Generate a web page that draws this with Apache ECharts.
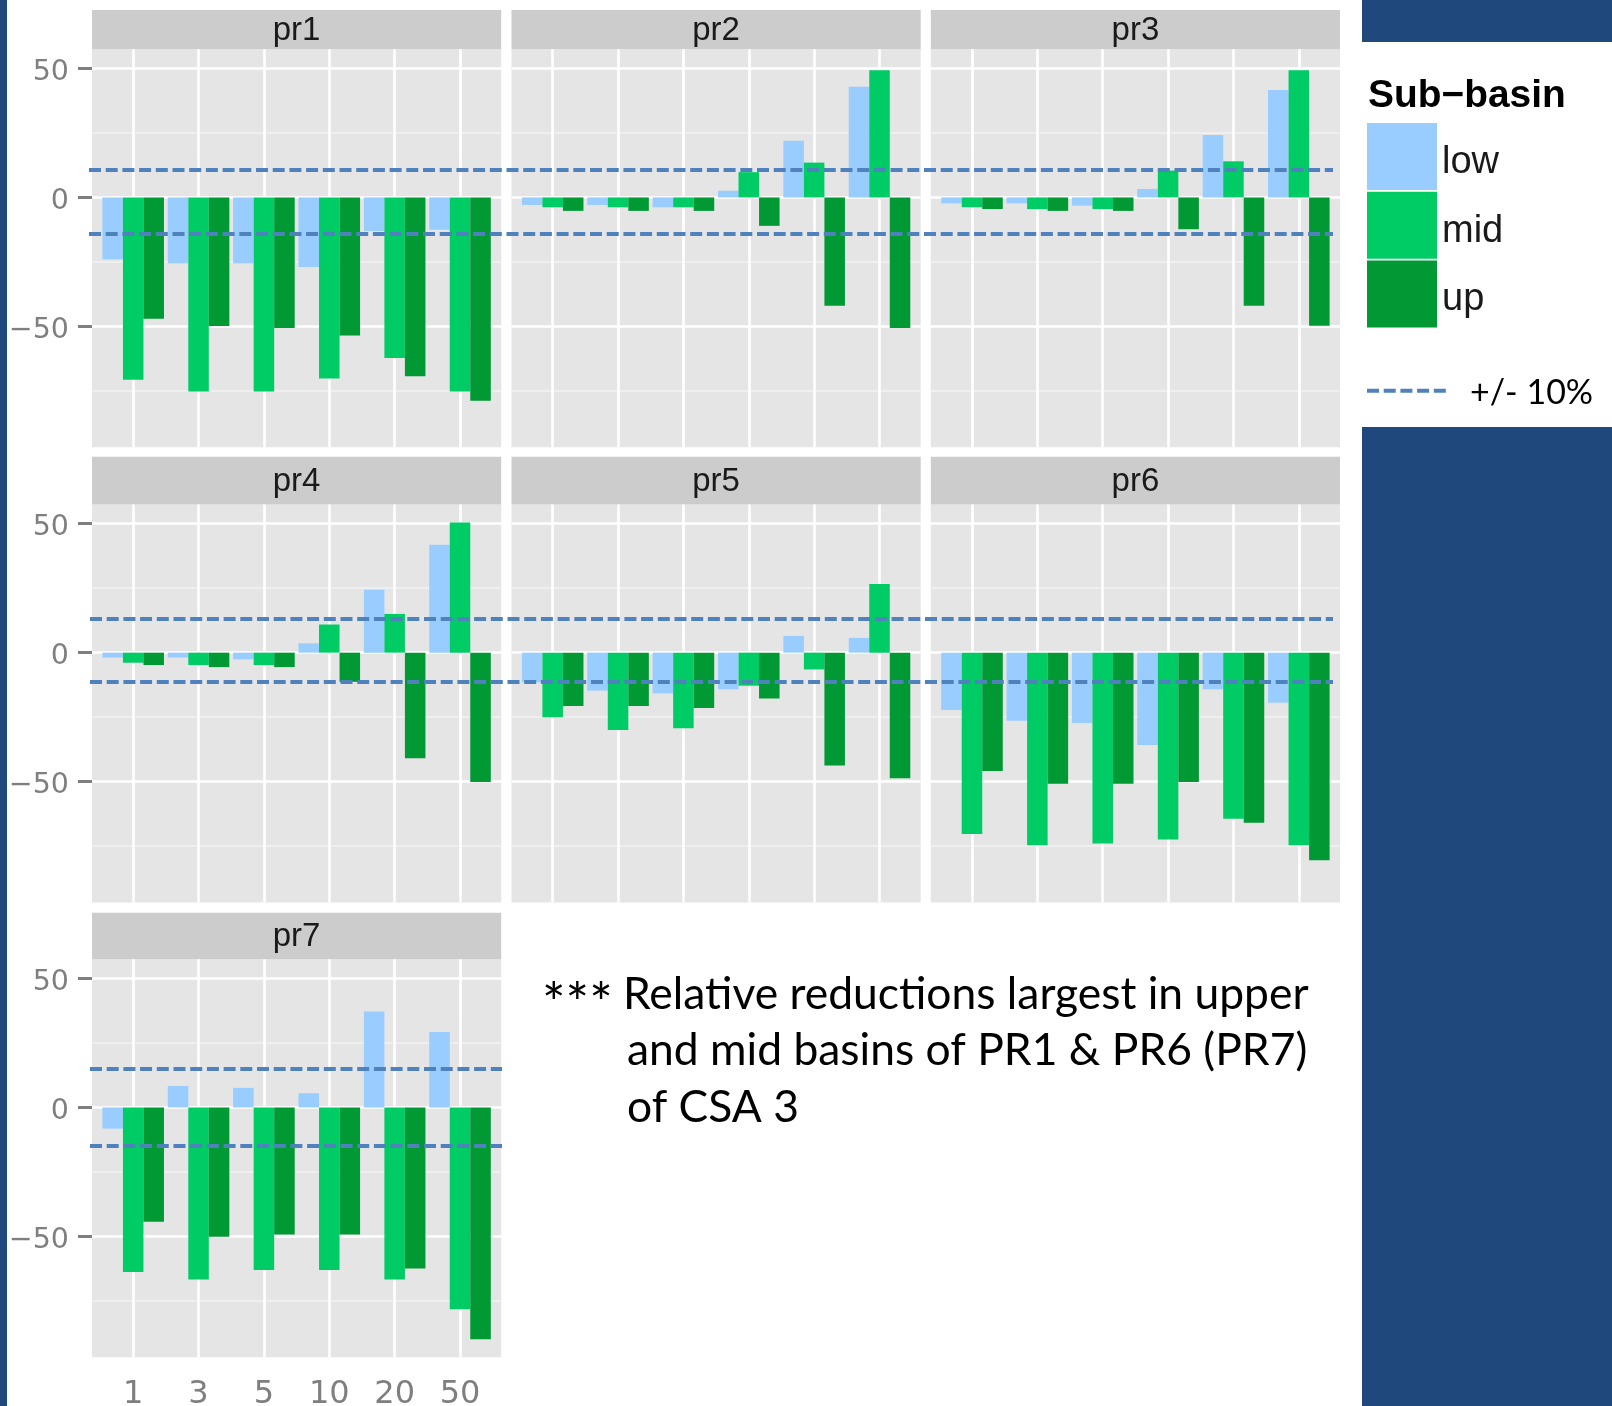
<!DOCTYPE html>
<html><head><meta charset="utf-8">
<script src="https://cdn.jsdelivr.net/npm/echarts@6/dist/echarts.min.js"></script>
<style>html,body{margin:0;padding:0;background:#fff}#c{width:1612px;height:1406px}</style>
</head><body><div id="c"></div>
<script>
// ---------------- data ----------------
const categories = ['1', '3', '5', '10', '20', '50'];
const panelNames = ['pr1', 'pr2', 'pr3', 'pr4', 'pr5', 'pr6', 'pr7'];
const legendNames = ['low', 'mid', 'up'];

const pr1Low = [-23.9, -25.5, -25.5, -26.9, -13.0, -12.5];
const pr1Mid = [-70.6, -75.2, -75.2, -70.1, -62.2, -75.2];
const pr1Up  = [-47.0, -49.8, -50.6, -53.5, -69.3, -78.8];
const pr2Low = [-2.9, -2.9, -3.8, 2.6, 22.0, 42.9];
const pr2Mid = [-3.8, -3.8, -3.8, 9.8, 13.5, 49.3];
const pr2Up  = [-5.2, -5.2, -5.2, -11.0, -42.0, -50.6];
const pr3Low = [-2.3, -2.3, -3.2, 3.3, 24.2, 41.6];
const pr3Mid = [-3.8, -4.5, -4.5, 10.4, 14.0, 49.3];
const pr3Up  = [-4.5, -5.2, -5.2, -12.3, -42.0, -49.7];
const pr4Low = [-1.9, -1.9, -2.6, 3.6, 24.4, 41.8];
const pr4Mid = [-3.9, -4.8, -4.8, 10.9, 15.0, 50.4];
const pr4Up  = [-4.8, -5.6, -5.6, -11.3, -40.9, -50.1];
const pr5Low = [-11.5, -14.7, -15.8, -14.2, 6.5, 5.7];
const pr5Mid = [-25.0, -30.0, -29.3, -12.8, -6.5, 26.6];
const pr5Up  = [-20.7, -20.7, -21.4, -17.8, -43.7, -48.7];
const pr6Low = [-22.2, -26.4, -27.3, -35.8, -14.2, -19.4];
const pr6Mid = [-70.3, -74.6, -73.9, -72.4, -64.4, -74.6];
const pr6Up  = [-45.9, -50.8, -50.8, -50.1, -65.9, -80.4];
const pr7Low = [-8.2, 8.3, 7.6, 5.5, 37.2, 29.2];
const pr7Mid = [-63.8, -66.7, -63.0, -63.0, -66.7, -78.2];
const pr7Up  = [-44.3, -50.1, -49.2, -49.2, -62.4, -89.8];

const yMajorTicks = [-50, 0, 50];
const yMinorTicks = [-75, -25, 25];
const refLinesRow1 = [10.6, -14.1];
const refLinesRow2 = [13.2, -11.3];
const refLinesRow3 = [15.0, -14.9];

const legendTitle = 'Sub\u2212basin';
const refLegendLabel = '+/- 10%';
const captionStars = '***';
const captionLines = ['Relative reductions largest in upper',
                      'and mid basins of PR1 & PR6 (PR7)',
                      'of CSA 3'];

// ---------------- layout / style ----------------
const panelData = [
  [pr1Low, pr1Mid, pr1Up], [pr2Low, pr2Mid, pr2Up], [pr3Low, pr3Mid, pr3Up],
  [pr4Low, pr4Mid, pr4Up], [pr5Low, pr5Mid, pr5Up], [pr6Low, pr6Mid, pr6Up],
  [pr7Low, pr7Mid, pr7Up]
];
const refLines = [refLinesRow1, refLinesRow2, refLinesRow3];
const colors = ['#99CCFF', '#00CC66', '#009933'];
const Y_MIN = -96.8, Y_MAX = 57.4;
const panelLefts = [92, 511.5, 930.8];
const panelW = 409.2;
const stripTops = [10, 456.7, 912.7];
const plotTops = [49.3, 504.5, 959.3];
const plotH = 398;
const band = panelW / 6.26;
const X_MIN = 0.37, X_MAX = 6.63;
const fgOffset = (1 - X_MIN - 0.5) * band;
const refSpans = [[89, 1333], [90, 1333], [90, 502]];
const NAVY = '#1F497D';
const GREY_TXT = '#7F7F7F';

function fitSize(text, font, target) {
  const ctx = document.createElement('canvas').getContext('2d');
  ctx.font = font.replace('{s}', '100px');
  return 100 * target / ctx.measureText(text).width;
}
const minus = v => (v < 0 ? '\u2212' + (-v) : String(v));
const gridBase = { containLabel: false, outerBoundsMode: 'none' };

const grids = [], xAxes = [], yAxes = [], series = [], graphics = [];

panelNames.forEach((name, p) => {
  const row = Math.floor(p / 3), col = p % 3;
  const left = panelLefts[col], top = plotTops[row];
  const isLeft = col === 0;
  const isBottom = p === 6;
  // background grid (panel + grid lines + y axis)
  const gBg = grids.length;
  grids.push(Object.assign({ left: left, top: top, width: panelW, height: plotH, show: true,
    backgroundColor: '#E5E5E5', borderWidth: 0, z: 0 }, gridBase));
  xAxes.push({ type: 'value', gridIndex: gBg, min: X_MIN, max: X_MAX, show: false });
  yAxes.push({ type: 'value', gridIndex: gBg, min: Y_MIN, max: Y_MAX, show: isLeft,
    axisLine: { show: false }, splitLine: { show: false },
    axisTick: { show: true, length: 14, customValues: yMajorTicks,
      lineStyle: { color: GREY_TXT, width: 3 } },
    axisLabel: { show: true, customValues: yMajorTicks, margin: 23, color: GREY_TXT,
      fontSize: 28.5, fontFamily: 'DejaVu Sans',
      formatter: v => '{t|' + minus(v) + '}',
      rich: { t: { fontSize: 28.5, fontFamily: 'DejaVu Sans', color: GREY_TXT, padding: [8, 0, 0, 0] } } } });
  const md = [];
  yMinorTicks.forEach(v => md.push({ yAxis: v, lineStyle: { color: '#F2F2F2', width: 1.5, type: 'solid' } }));
  yMajorTicks.forEach(v => md.push({ yAxis: v, lineStyle: { color: '#FFFFFF', width: 2.6, type: 'solid' } }));
  categories.forEach((c, i) => md.push({ xAxis: i + 1, lineStyle: { color: '#FFFFFF', width: 2.6, type: 'solid' } }));
  series.push({ type: 'line', xAxisIndex: gBg, yAxisIndex: gBg, data: [[1, 0]], symbol: 'none',
    lineStyle: { opacity: 0 }, silent: true, z: 1,
    markLine: { silent: true, z: 1, symbol: ['none', 'none'], label: { show: false },
      emphasis: { disabled: true }, animation: false, data: md } });
  // foreground grid (bars)
  const gFg = grids.length;
  grids.push(Object.assign({ left: left + fgOffset, top: top, width: 6 * band, height: plotH, show: false }, gridBase));
  xAxes.push({ type: 'category', gridIndex: gFg, data: categories, show: isBottom, boundaryGap: true,
    axisLine: { show: false }, splitLine: { show: false },
    axisTick: { show: true, alignWithLabel: true, interval: 0, length: 13,
      lineStyle: { color: GREY_TXT, width: 3 } },
    axisLabel: { show: true, interval: 0, margin: 21, color: GREY_TXT, fontSize: 32,
      fontFamily: 'DejaVu Sans' } });
  yAxes.push({ type: 'value', gridIndex: gFg, min: Y_MIN, max: Y_MAX, show: false });
  legendNames.forEach((ln, s) => {
    series.push({ type: 'bar', name: ln, xAxisIndex: gFg, yAxisIndex: gFg,
      data: panelData[p][s], barGap: '0%', barCategoryGap: '5.8%', silent: true, z: 2,
      itemStyle: { color: colors[s] } });
  });
  // strip
  const sTop = stripTops[row], sH = plotTops[row] - stripTops[row];
  graphics.push({ type: 'rect', shape: { x: left, y: sTop, width: panelW, height: sH },
    style: { fill: '#CCCCCC' }, silent: true });
  graphics.push({ type: 'text', style: { text: name, x: left + panelW / 2, y: sTop + sH / 2 + 1,
    font: '33px "Liberation Sans"', fill: '#1A1A1A', textAlign: 'center', textVerticalAlign: 'middle' }, silent: true });
});

// dashed reference lines across each row
refLines.forEach((vals, r) => {
  const g = grids.length;
  grids.push(Object.assign({ left: refSpans[r][0], top: plotTops[r], width: refSpans[r][1] - refSpans[r][0], height: plotH, show: false }, gridBase));
  xAxes.push({ type: 'value', gridIndex: g, min: 0, max: 1, show: false });
  yAxes.push({ type: 'value', gridIndex: g, min: Y_MIN, max: Y_MAX, show: false });
  series.push({ type: 'line', xAxisIndex: g, yAxisIndex: g, data: [[0.5, 0]], symbol: 'none',
    lineStyle: { opacity: 0 }, silent: true, z: 5,
    markLine: { silent: true, z: 6, symbol: ['none', 'none'], label: { show: false },
      emphasis: { disabled: true }, animation: false,
      lineStyle: { color: '#4F81BD', width: 4, type: [12, 4.7] },
      data: vals.map(v => ({ yAxis: v })) } });
});

// navy slide decorations
graphics.push({ type: 'rect', shape: { x: 0, y: 0, width: 7, height: 1406 }, style: { fill: NAVY }, silent: true });
graphics.push({ type: 'rect', shape: { x: 1362, y: 0, width: 250, height: 42 }, style: { fill: NAVY }, silent: true });
graphics.push({ type: 'rect', shape: { x: 1362, y: 427, width: 250, height: 979 }, style: { fill: NAVY }, silent: true });

// legend title and reference line key
const titleSize = fitSize(legendTitle, 'bold {s} "Liberation Sans"', 198);
graphics.push({ type: 'text', style: { text: legendTitle, x: 1368, y: 96,
  font: 'bold ' + titleSize.toFixed(1) + 'px "Liberation Sans"', fill: '#000000', textVerticalAlign: 'middle' }, silent: true });
graphics.push({ type: 'line', shape: { x1: 1367, y1: 390.7, x2: 1446, y2: 390.7 },
  style: { stroke: '#4F81BD', lineWidth: 4, lineDash: [12, 4.7] }, silent: true });
const refSize = fitSize(refLegendLabel, '{s} Lato', 123);
graphics.push({ type: 'text', style: { text: refLegendLabel, x: 1470, y: 393,
  font: refSize.toFixed(1) + 'px Lato', fill: '#000000', textVerticalAlign: 'middle' }, silent: true });

// caption
const capSize = fitSize(captionLines[0], '{s} Lato', 686);
const capFont = capSize.toFixed(1) + 'px Lato';
const capX = [623, 627, 627], capY = [995, 1051, 1108];
graphics.push({ type: 'text', style: { text: captionStars, x: 542, y: capY[0] + 10,
  font: (capSize * 1.25).toFixed(1) + 'px Lato', fill: '#000000', textVerticalAlign: 'middle' }, silent: true });
captionLines.forEach((t, i) => {
  graphics.push({ type: 'text', style: { text: t, x: capX[i], y: capY[i],
    font: capFont, fill: '#000000', textVerticalAlign: 'middle' }, silent: true });
});

const chart = echarts.init(document.getElementById('c'));
chart.setOption({
  animation: false,
  backgroundColor: '#FFFFFF',
  grid: grids,
  xAxis: xAxes,
  yAxis: yAxes,
  series: series,
  legend: { data: legendNames, orient: 'vertical', left: 1367, top: 123, padding: 0,
    itemWidth: 70, itemHeight: 67, itemGap: 1.7, icon: 'rect', selectedMode: false,
    formatter: n => '{t|' + n + '}',
    textStyle: { fontSize: 38, color: '#1A1A1A', fontFamily: 'Liberation Sans',
      rich: { t: { fontSize: 38, color: '#1A1A1A', fontFamily: 'Liberation Sans', padding: [12, 0, 0, 0] } } } },
  graphic: { elements: graphics }
});
</script></body></html>
